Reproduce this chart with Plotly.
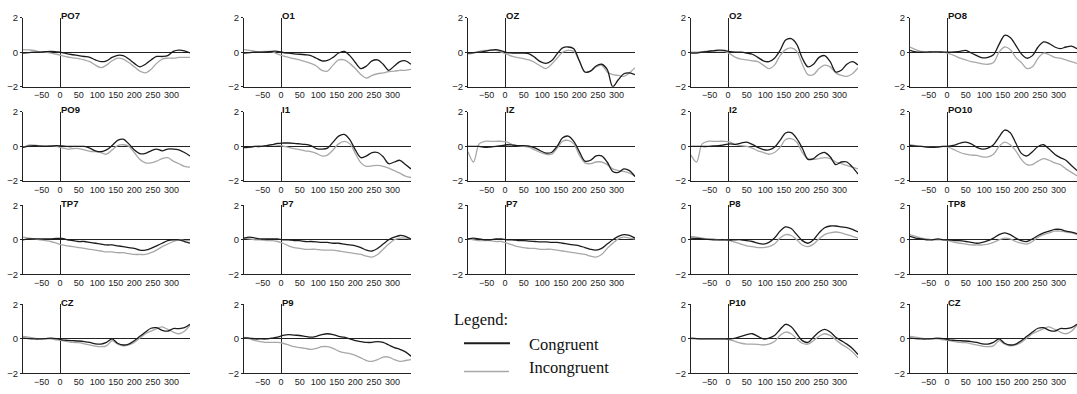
import plotly.graph_objects as go

# ---------------- data ----------------
TIMES = [-100, -85, -70, -55, -40, -25, -10, 5, 20, 35, 50, 65, 80, 95, 110, 125,
         140, 155, 170, 185, 200, 215, 230, 245, 260, 275, 290, 305, 320, 335, 350]
X_TICKS = [-50, 0, 50, 100, 150, 200, 250, 300]
Y_TICKS = [-2, 0, 2]

po7_con = [-0.05,-0.03,0,0,0.03,0.05,0.02,-0.02,-0.1,-0.15,-0.2,-0.25,-0.3,-0.45,-0.55,-0.5,-0.3,-0.18,-0.2,-0.4,-0.65,-0.85,-0.7,-0.45,-0.25,-0.25,-0.2,0.05,0.12,0.08,-0.05]
po7_inc = [0.15,0.13,0.1,0.03,0,-0.05,-0.12,-0.2,-0.28,-0.33,-0.38,-0.45,-0.55,-0.75,-0.9,-0.75,-0.5,-0.35,-0.4,-0.6,-0.85,-1.1,-1.2,-1.0,-0.65,-0.4,-0.35,-0.35,-0.3,-0.3,-0.3]
o1_con = [-0.05,-0.03,0,0,0.02,0.05,0.05,-0.02,-0.06,-0.1,-0.12,-0.15,-0.2,-0.35,-0.5,-0.48,-0.3,-0.05,0.05,-0.2,-0.6,-0.95,-0.8,-0.5,-0.45,-0.7,-1.05,-0.8,-0.55,-0.5,-0.7]
o1_inc = [0.15,0.1,0.05,0.03,0.05,0.03,-0.1,-0.22,-0.3,-0.38,-0.45,-0.55,-0.65,-0.8,-1.05,-1.1,-0.75,-0.45,-0.45,-0.65,-0.95,-1.3,-1.5,-1.35,-1.25,-1.2,-1.12,-1.1,-1.05,-1.05,-1.0]
oz_con = [-0.05,-0.03,0.0,0.05,0.12,0.15,0.08,-0.02,-0.05,-0.05,-0.05,-0.1,-0.3,-0.55,-0.65,-0.5,-0.1,0.25,0.3,0.2,-0.5,-1.15,-1.1,-0.8,-0.7,-1.0,-2.0,-1.6,-1.25,-1.2,-1.3]
oz_inc = [-0.1,-0.05,0.05,0.1,0.1,0.1,0.0,-0.12,-0.25,-0.32,-0.38,-0.45,-0.6,-0.8,-0.95,-0.7,-0.35,0.0,0.1,0.05,-0.5,-1.15,-1.1,-0.85,-0.75,-1.15,-1.3,-1.35,-1.4,-1.2,-0.9]
o2_con = [-0.05,-0.05,0,0.05,0.08,0.12,0.1,0.03,0.0,0.0,-0.05,-0.12,-0.3,-0.5,-0.55,-0.35,0.1,0.7,0.78,0.45,-0.35,-0.85,-0.7,-0.3,-0.2,-0.55,-1.15,-1.05,-0.7,-0.55,-0.75]
o2_inc = [0.0,0.0,0.03,0.05,0.08,0.08,0.06,-0.1,-0.3,-0.4,-0.45,-0.5,-0.55,-0.75,-0.95,-0.75,-0.2,0.15,0.25,0.05,-0.7,-1.3,-1.3,-0.95,-0.75,-0.85,-1.2,-1.35,-1.4,-1.25,-0.9]
po8_con = [0.1,0.02,0.0,0.0,0.02,0.02,0.0,0.0,0.02,0.05,0.1,-0.05,-0.2,-0.33,-0.3,-0.15,0.45,0.98,0.85,0.4,-0.1,-0.35,-0.2,0.3,0.6,0.5,0.3,0.2,0.3,0.35,0.2]
po8_inc = [0.3,0.15,0.05,0.0,0.0,0.0,0.0,-0.08,-0.2,-0.35,-0.45,-0.55,-0.6,-0.68,-0.7,-0.6,0.0,0.3,0.15,-0.3,-0.6,-0.95,-0.85,-0.35,-0.05,-0.15,-0.3,-0.35,-0.45,-0.55,-0.65]

po9_con = [-0.05,0.02,0.05,0.02,0.0,0.02,0.05,0.03,0.0,0.0,0.0,0.0,-0.1,-0.25,-0.3,-0.2,0.05,0.35,0.42,0.15,-0.2,-0.42,-0.4,-0.25,-0.15,-0.25,-0.15,-0.15,-0.2,-0.35,-0.55]
po9_inc = [-0.05,0.08,0.08,0.05,0.05,0.05,0.0,-0.08,-0.15,-0.12,-0.12,-0.2,-0.28,-0.3,-0.35,-0.45,-0.2,0.05,0.1,0.02,-0.35,-0.75,-0.95,-0.95,-0.85,-0.7,-0.65,-0.85,-1.0,-1.15,-1.2]
i1_con = [-0.05,-0.03,0.0,0.0,0.05,0.1,0.18,0.2,0.2,0.18,0.15,0.12,0.05,-0.12,-0.15,-0.1,0.25,0.6,0.7,0.4,-0.2,-0.65,-0.55,-0.35,-0.35,-0.6,-1.0,-0.9,-0.8,-1.05,-1.3]
i1_inc = [-0.1,-0.05,0.0,0.02,0.05,0.1,0.08,0.02,-0.05,-0.12,-0.18,-0.25,-0.3,-0.4,-0.55,-0.5,-0.2,0.15,0.3,0.15,-0.4,-0.95,-1.15,-1.12,-1.1,-1.15,-1.25,-1.4,-1.55,-1.72,-1.8]
iz_con = [0.0,0.0,0.0,-0.05,-0.03,0.0,0.05,0.1,0.08,0.05,0.05,0.02,-0.08,-0.25,-0.38,-0.35,0.0,0.5,0.6,0.3,-0.3,-0.85,-0.8,-0.55,-0.55,-0.9,-1.45,-1.5,-1.3,-1.4,-1.75]
iz_inc = [-0.3,-0.9,0.15,0.3,0.3,0.3,0.3,0.25,0.1,0.05,0.0,-0.05,-0.2,-0.35,-0.45,-0.45,-0.1,0.3,0.35,0.15,-0.5,-0.95,-1.0,-0.9,-0.9,-1.05,-1.3,-1.4,-1.45,-1.55,-1.7]
i2_con = [0.0,0.0,0.0,0.0,0.03,0.05,0.1,0.15,0.12,0.2,0.25,0.12,-0.05,-0.18,-0.2,-0.05,0.35,0.78,0.8,0.45,-0.1,-0.75,-0.7,-0.45,-0.35,-0.6,-1.05,-0.9,-0.9,-1.2,-1.6]
i2_inc = [-0.5,-0.9,0.15,0.3,0.3,0.3,0.3,0.25,0.1,0.05,0.0,-0.1,-0.25,-0.35,-0.45,-0.35,-0.05,0.4,0.45,0.25,-0.35,-0.7,-0.75,-0.7,-0.65,-0.7,-0.9,-1.0,-1.1,-1.2,-1.3]
po10_con = [0.05,0.02,0.0,-0.03,-0.05,-0.03,0.0,0.02,0.08,0.2,0.25,0.15,-0.05,-0.15,-0.1,0.1,0.55,0.95,0.8,0.2,-0.4,-0.55,-0.3,0.0,0.1,-0.15,-0.45,-0.65,-0.8,-1.1,-1.4]
po10_inc = [0.1,0.05,0.0,-0.03,-0.05,-0.03,0.0,-0.05,-0.2,-0.35,-0.45,-0.5,-0.52,-0.6,-0.6,-0.45,0.0,0.25,0.1,-0.25,-0.75,-1.05,-1.05,-0.85,-0.7,-0.8,-0.95,-1.05,-1.3,-1.5,-1.7]

tp7_con = [0.0,0.05,0.05,0.05,0.05,0.05,0.08,0.08,0.0,-0.05,-0.1,-0.1,-0.15,-0.2,-0.25,-0.3,-0.3,-0.35,-0.4,-0.45,-0.5,-0.6,-0.6,-0.5,-0.35,-0.2,-0.05,0.0,0.0,-0.1,-0.2]
tp7_inc = [0.15,0.1,0.05,0.0,-0.05,-0.1,-0.2,-0.3,-0.35,-0.4,-0.45,-0.5,-0.55,-0.6,-0.65,-0.7,-0.7,-0.75,-0.75,-0.8,-0.85,-0.85,-0.85,-0.75,-0.6,-0.4,-0.25,-0.1,0.0,-0.05,-0.05]
p7a_con = [0.1,0.15,0.1,0.05,0.05,0.05,0.05,0.0,0.0,-0.05,-0.05,-0.1,-0.1,-0.12,-0.15,-0.15,-0.2,-0.2,-0.25,-0.3,-0.35,-0.45,-0.6,-0.65,-0.5,-0.25,0.0,0.15,0.25,0.2,0.05]
p7a_inc = [0.1,0.05,0.0,0.0,-0.05,-0.05,-0.1,-0.2,-0.35,-0.45,-0.5,-0.55,-0.55,-0.55,-0.6,-0.6,-0.6,-0.65,-0.7,-0.75,-0.8,-0.85,-0.95,-1.0,-0.85,-0.55,-0.25,0.0,0.1,0.1,0.05]
p7b_con = [0.05,0.1,0.05,0.0,0.0,0.05,0.05,0.0,0.0,-0.05,-0.05,-0.08,-0.1,-0.12,-0.12,-0.15,-0.15,-0.2,-0.25,-0.3,-0.35,-0.45,-0.55,-0.6,-0.5,-0.25,0.0,0.2,0.3,0.25,0.1]
p7b_inc = [0.05,0.0,-0.05,-0.05,-0.05,-0.1,-0.1,-0.2,-0.3,-0.4,-0.45,-0.5,-0.5,-0.55,-0.55,-0.55,-0.6,-0.65,-0.7,-0.75,-0.8,-0.85,-0.95,-1.0,-0.85,-0.5,-0.2,0.05,0.15,0.1,0.05]
p8_con = [0.1,0.08,0.05,0.02,0.0,0.0,0.0,-0.02,0.0,0.0,-0.05,-0.1,-0.2,-0.25,-0.15,0.1,0.5,0.75,0.65,0.3,-0.05,-0.2,0.0,0.4,0.7,0.8,0.8,0.75,0.7,0.6,0.45]
p8_inc = [0.2,0.15,0.1,0.05,0.05,0.0,0.0,-0.05,-0.15,-0.25,-0.35,-0.4,-0.45,-0.45,-0.4,-0.25,0.1,0.3,0.25,0.0,-0.3,-0.4,-0.25,0.05,0.3,0.4,0.45,0.4,0.3,0.2,0.1]
tp8_con = [0.2,0.1,0.05,0.0,0.0,0.05,0.0,0.0,-0.05,-0.05,-0.1,-0.15,-0.2,-0.15,-0.05,0.1,0.3,0.4,0.3,0.1,-0.05,-0.1,0.05,0.25,0.4,0.5,0.6,0.6,0.5,0.45,0.35]
tp8_inc = [0.3,0.2,0.1,0.05,0.0,0.0,0.0,-0.05,-0.15,-0.2,-0.25,-0.3,-0.3,-0.3,-0.25,-0.15,0.0,0.1,0.05,-0.1,-0.2,-0.25,-0.1,0.15,0.3,0.4,0.5,0.5,0.45,0.4,0.3]

cz_con = [0.05,0.02,0.0,0.0,0.02,0.05,0.02,-0.05,-0.08,-0.1,-0.12,-0.15,-0.2,-0.28,-0.3,-0.2,0.0,-0.25,-0.35,-0.3,-0.1,0.15,0.4,0.62,0.65,0.5,0.45,0.6,0.6,0.65,0.85]
cz_inc = [0.15,0.1,0.05,0.0,0.0,0.0,-0.05,-0.1,-0.15,-0.2,-0.22,-0.28,-0.35,-0.42,-0.45,-0.4,-0.1,-0.3,-0.4,-0.35,-0.2,0.05,0.3,0.45,0.6,0.7,0.55,0.4,0.3,0.45,0.8]
p9_con = [0.05,0.05,0.0,0.0,0.0,0.05,0.1,0.2,0.25,0.22,0.2,0.15,0.1,0.15,0.25,0.3,0.25,0.15,0.1,0.0,-0.1,-0.15,-0.2,-0.2,-0.15,-0.2,-0.35,-0.5,-0.6,-0.75,-1.0]
p9_inc = [0.1,0.0,-0.1,-0.15,-0.2,-0.2,-0.2,-0.25,-0.35,-0.45,-0.5,-0.55,-0.6,-0.55,-0.45,-0.45,-0.55,-0.7,-0.8,-0.85,-0.95,-1.1,-1.25,-1.3,-1.2,-1.05,-1.05,-1.2,-1.3,-1.25,-1.2]
p10_con = [0.05,0.02,0.0,0.0,0.0,0.0,0.0,0.0,0.05,0.15,0.25,0.3,0.15,0.0,0.05,0.2,0.55,0.85,0.7,0.3,-0.1,-0.2,0.1,0.4,0.55,0.4,0.1,-0.1,-0.3,-0.55,-0.9]
p10_inc = [0.0,0.0,0.0,0.0,0.0,0.0,0.0,-0.05,-0.15,-0.25,-0.3,-0.3,-0.32,-0.35,-0.3,-0.15,0.2,0.4,0.3,0.0,-0.25,-0.3,-0.1,0.15,0.3,0.2,-0.05,-0.3,-0.5,-0.75,-1.1]
cz2_con = [0.05,0.02,0.0,0.0,0.02,0.05,0.02,-0.05,-0.08,-0.1,-0.12,-0.15,-0.2,-0.28,-0.3,-0.2,0.0,-0.25,-0.35,-0.3,-0.1,0.15,0.4,0.62,0.65,0.5,0.45,0.6,0.6,0.65,0.85]
cz2_inc = [0.15,0.1,0.05,0.0,0.0,0.0,-0.05,-0.1,-0.15,-0.2,-0.22,-0.28,-0.35,-0.42,-0.45,-0.4,-0.1,-0.3,-0.4,-0.35,-0.2,0.05,0.3,0.45,0.6,0.7,0.55,0.4,0.3,0.45,0.8]

GRID = [
    [("PO7", po7_con, po7_inc), ("O1", o1_con, o1_inc), ("OZ", oz_con, oz_inc), ("O2", o2_con, o2_inc), ("PO8", po8_con, po8_inc)],
    [("PO9", po9_con, po9_inc), ("I1", i1_con, i1_inc), ("IZ", iz_con, iz_inc), ("I2", i2_con, i2_inc), ("PO10", po10_con, po10_inc)],
    [("TP7", tp7_con, tp7_inc), ("P7", p7a_con, p7a_inc), ("P7", p7b_con, p7b_inc), ("P8", p8_con, p8_inc), ("TP8", tp8_con, tp8_inc)],
    [("CZ", cz_con, cz_inc), ("P9", p9_con, p9_inc), None, ("P10", p10_con, p10_inc), ("CZ", cz2_con, cz2_inc)],
]

# ---------------- layout constants ----------------
W, H = 1077, 394
COL_LEFT = [23, 244, 468, 691, 910]
PANEL_W = 167
ROW_TOP = [12, 109, 205, 307]
PANEL_H = 71
CON_COLOR = "#1c1c1c"
INC_COLOR = "#a8a8a8"
AXIS_COLOR = "#222222"
FONT = "Liberation Sans, Arial, sans-serif"

fig = go.Figure()
layout = dict(
    width=W, height=H, margin=dict(l=0, r=0, t=0, b=0),
    paper_bgcolor="white", plot_bgcolor="white", showlegend=False,
    annotations=[], shapes=[],
)

n = 0
for r, row in enumerate(GRID):
    for c, cell in enumerate(row):
        if cell is None:
            continue
        n += 1
        name, con, inc = cell
        xa = "x" if n == 1 else f"x{n}"
        ya = "y" if n == 1 else f"y{n}"
        x0 = COL_LEFT[c] / W
        x1 = (COL_LEFT[c] + PANEL_W) / W
        y1 = 1 - ROW_TOP[r] / H
        y0 = 1 - (ROW_TOP[r] + PANEL_H) / H
        layout["xaxis" if n == 1 else f"xaxis{n}"] = dict(
            domain=[x0, x1], range=[-100, 350], anchor=ya,
            showline=True, linecolor=AXIS_COLOR, linewidth=1,
            zeroline=True, zerolinecolor=AXIS_COLOR, zerolinewidth=1,
            showgrid=False, tickvals=X_TICKS, ticks="",
            tickfont=dict(family=FONT, size=9, color="#222"),
            fixedrange=True,
        )
        layout["yaxis" if n == 1 else f"yaxis{n}"] = dict(
            domain=[y0, y1], range=[-2, 2], anchor=xa,
            showline=True, linecolor=AXIS_COLOR, linewidth=1,
            zeroline=True, zerolinecolor=AXIS_COLOR, zerolinewidth=1,
            showgrid=False, tickvals=Y_TICKS, ticks="outside", ticklen=2,
            tickcolor=AXIS_COLOR,
            tickfont=dict(family=FONT, size=9.5, color="#222"),
            fixedrange=True,
        )
        fig.add_trace(go.Scatter(
            x=TIMES, y=inc, mode="lines", xaxis=xa, yaxis=ya,
            line=dict(color=INC_COLOR, width=1.3, shape="spline", smoothing=0.9),
            hoverinfo="skip"))
        fig.add_trace(go.Scatter(
            x=TIMES, y=con, mode="lines", xaxis=xa, yaxis=ya,
            line=dict(color=CON_COLOR, width=1.3, shape="spline", smoothing=0.9),
            hoverinfo="skip"))
        layout["annotations"].append(dict(
            text=f"<b>{name}</b>", x=0, y=2, xref=xa, yref=ya,
            xanchor="left", yanchor="middle", showarrow=False, yshift=2,
            font=dict(family=FONT, size=9.5, color="#111"), xshift=-1))

# ---------------- custom legend ----------------
SERIF = "Liberation Serif, Times New Roman, serif"
layout["annotations"] += [
    dict(text="Legend:", x=452 / W, y=1 - 322 / H, xref="paper", yref="paper",
         xanchor="left", yanchor="middle", showarrow=False,
         font=dict(family=SERIF, size=16.5, color="#111")),
    dict(text="Congruent", x=527 / W, y=1 - 348 / H, xref="paper", yref="paper",
         xanchor="left", yanchor="middle", showarrow=False,
         font=dict(family=SERIF, size=16.5, color="#111")),
    dict(text="Incongruent", x=527 / W, y=1 - 372 / H, xref="paper", yref="paper",
         xanchor="left", yanchor="middle", showarrow=False,
         font=dict(family=SERIF, size=16.5, color="#111")),
]
layout["shapes"] += [
    dict(type="line", xref="paper", yref="paper", x0=464 / W, x1=510 / W,
         y0=1 - 347 / H, y1=1 - 347 / H, line=dict(color=CON_COLOR, width=2)),
    dict(type="line", xref="paper", yref="paper", x0=464 / W, x1=509 / W,
         y0=1 - 376 / H, y1=1 - 376 / H, line=dict(color=INC_COLOR, width=1.3)),
]

fig.update_layout(**layout)
fig.write_html("out.html")
